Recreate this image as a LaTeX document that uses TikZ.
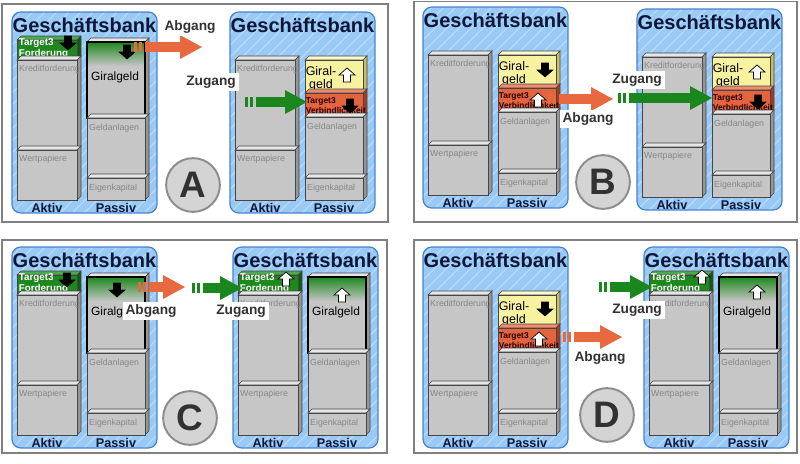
\documentclass[tikz,border=0pt]{standalone}
\usepackage{fontspec}
\setmainfont{Liberation Sans}
\usepackage{tikz}
\usetikzlibrary{arrows.meta}
\definecolor{bankblau}{RGB}{153, 201, 245}
\definecolor{bankrand}{RGB}{70, 130, 210}
\definecolor{schraffur}{RGB}{188, 220, 250}
\definecolor{titelblau}{RGB}{12, 24, 58}
\definecolor{qfront}{RGB}{198, 198, 198}
\definecolor{qtop}{RGB}{230, 230, 230}
\definecolor{qside}{RGB}{150, 150, 150}
\definecolor{qrand}{RGB}{70, 70, 70}
\definecolor{grautext}{RGB}{135, 135, 135}
\definecolor{tgruen}{RGB}{30, 135, 30}
\definecolor{tgruenhell}{RGB}{75, 170, 75}
\definecolor{tgruendunkel}{RGB}{18, 90, 18}
\definecolor{gelb}{RGB}{247, 242, 160}
\definecolor{gelbhell}{RGB}{252, 250, 205}
\definecolor{gelbdunkel}{RGB}{200, 190, 100}
\definecolor{rot}{RGB}{228, 100, 62}
\definecolor{rothell}{RGB}{240, 140, 110}
\definecolor{rotdunkel}{RGB}{165, 60, 30}
\definecolor{pfeilorange}{RGB}{232, 104, 64}
\definecolor{pfeilgruen}{RGB}{25, 135, 30}
\definecolor{schrift}{RGB}{50, 50, 50}
\definecolor{rahmen}{RGB}{128, 128, 128}
\definecolor{kreis}{RGB}{212, 212, 212}
\definecolor{kreisrand}{RGB}{140, 140, 140}

% 3D-Quader: x1, y1, x2, y2, front, top, side
\newcommand{\quader}[7]{%
  \filldraw[qline, fill=#6] (#1,#2) -- (#1+4,#2-4) -- (#3+4,#2-4) -- (#3,#2) -- cycle;
  \filldraw[qline, fill=#7] (#3,#2) -- (#3+4,#2-4) -- (#3+4,#4-4) -- (#3,#4) -- cycle;
  \filldraw[qline, fill=#5] (#1,#2) rectangle (#3,#4);
}
% kleine Pfeile: Mitte x, obere Kante y
\newcommand{\runter}[2]{%
  \filldraw[fill=black, draw=black, line width=0.3pt] (#1-3.5,#2) -- (#1+3.5,#2) -- (#1+3.5,#2+7) -- (#1+8,#2+7) -- (#1,#2+14) -- (#1-8,#2+7) -- (#1-3.5,#2+7) -- cycle;
}
\newcommand{\rauf}[2]{%
  \filldraw[fill=white, draw=black, line width=0.4pt] (#1,#2) -- (#1+8,#2+7) -- (#1+3.5,#2+7) -- (#1+3.5,#2+14) -- (#1-3.5,#2+14) -- (#1-3.5,#2+7) -- (#1-8,#2+7) -- cycle;
}
% Bank mit Titel und Fuss
\newcommand{\bank}{%
  \begin{scope}
    \clip[rounded corners=5pt] (0,0) rectangle (145,201);
    \fill[bankblau] (0,0) rectangle (145,201);
    \foreach \h in {-204,-192,...,144} \draw[schraffur, line width=0.6pt] (\h,201) -- ++(201,-201);
  \end{scope}
  \draw[bankrand, line width=0.7pt, rounded corners=5pt] (0,0) rectangle (145,201);
  \node[titel] (titel) at (72.5,13) {Geschäftsbank};
  \node[fuss] (aktiv) at (35,196) {Aktiv};
  \node[fuss] (passiv) at (104,196) {Passiv};
}
% Target3 Forderung + Giralgeld
\newcommand{\spalteT}{%
  \quader{5}{28}{65}{48}{tgruen}{tgruenhell}{tgruendunkel}
  \node[tweiss] (forderung) at (6.5,36.5) {Target3\\Forderung};
  \quader{5}{48}{65}{138}{qfront}{qtop}{qside}
  \node[grau] (kredit) at (6,57) {Kreditforderung};
  \quader{5}{138}{65}{188}{qfront}{qtop}{qside}
  \node[grau] (wert) at (6,147) {Wertpapiere};
  \quader{75}{30}{133}{106}{qfront}{qtop}{qside}
  \shade[top color=tgruen, middle color=tgruen!55!qfront, bottom color=qfront] (75,30) rectangle (133,54);
  \draw[black, line width=0.7pt] (75,30) rectangle (133,106);
  \node[schwarz] (giral) at (103,65) {Giralgeld};
  \quader{75}{106}{133}{166}{qfront}{qtop}{qside}
  \node[grau] (anlagen) at (76,116) {Geldanlagen};
  \quader{75}{166}{133}{188}{qfront}{qtop}{qside}
  \node[grau] (kapital) at (76,176) {Eigenkapital};
}
% Giralgeld + Target3 Verbindlichkeit
\newcommand{\spalteY}{%
  \quader{5}{48}{65}{138}{qfront}{qtop}{qside}
  \node[grau] (kredit) at (6,57) {Kreditforderung};
  \quader{5}{138}{65}{188}{qfront}{qtop}{qside}
  \node[grau] (wert) at (6,147) {Wertpapiere};
  \quader{75}{48}{133}{81}{gelb}{gelbhell}{gelbdunkel}
  \node[schwarz, align=center, font=\fontsize{7.1}{7.6}\selectfont] (giral) at (91,66.5) {Giral-\\geld};
  \quader{75}{81}{133}{105}{rot}{rothell}{rotdunkel}
  \node[rottext] (verbind) at (75.5,94) {Target3\\Verbindlichkeit};
  \quader{75}{105}{133}{166}{qfront}{qtop}{qside}
  \node[grau] (anlagen) at (76,115) {Geldanlagen};
  \quader{75}{166}{133}{188}{qfront}{qtop}{qside}
  \node[grau] (kapital) at (76,176) {Eigenkapital};
}

\begin{document}
\begin{tikzpicture}[
    x = 0.02cm, y = -0.02cm,
    qline/.style = {draw=qrand, line width=0.35pt},
    titel/.style = {font=\fontsize{11.4}{13}\selectfont\bfseries, text=titelblau, inner sep=0pt},
    fuss/.style = {font=\fontsize{7.2}{8}\selectfont\bfseries, text=titelblau, inner sep=0pt},
    grau/.style = {anchor=west, font=\fontsize{5}{6}\selectfont, text=grautext, inner sep=0.5pt},
    schwarz/.style = {font=\fontsize{6.8}{7.4}\selectfont, text=black, inner sep=0pt},
    tweiss/.style = {anchor=west, align=left, font=\fontsize{5.6}{6.2}\selectfont\bfseries, text=white, inner sep=0pt},
    rottext/.style = {anchor=west, align=left, font=\fontsize{4.8}{5.6}\selectfont\bfseries, text=black!85!red, inner sep=0pt},
    marke/.style = {fill=white, font=\fontsize{7.8}{9}\selectfont\bfseries, text=schrift, inner sep=1.6pt},
    buchstabe/.style = {circle, fill=kreis, draw=kreisrand, line width=1.1pt, minimum size=30.6pt, inner sep=0pt, font=\fontsize{21}{21}\selectfont\bfseries, text=schrift},
    rahmenlinie/.style = {draw=rahmen, line width=1.1pt},
    abgang/.style = {draw=pfeilorange, line width=6.2pt, dash pattern=on 1.7pt off 1.4pt on 1.7pt off 1.4pt on 400pt off 1pt, -{Triangle[length=12.5pt, width=13.6pt, line width=0pt]}},
    zugang/.style = {abgang, draw=pfeilgruen}
]
\useasboundingbox (0,0) rectangle (800,463);

% Rahmen
\draw[rahmenlinie] (2,4) rectangle (388,222);
\draw[rahmenlinie] (414,1.5) rectangle (797,222);
\draw[rahmenlinie] (2,240) rectangle (387,453);
\draw[rahmenlinie] (414,240) rectangle (797,453);

% A
\begin{scope}[shift={(12,12)}, name prefix=aL-]
\bank
\spalteT
\runter{56}{24}
\runter{115}{33}
\end{scope}
\begin{scope}[shift={(230,12)}, name prefix=aR-]
\bank
\spalteY
\rauf{117}{56}
\runter{120}{87}
\end{scope}

% B
\begin{scope}[shift={(423,7)}, name prefix=bL-]
\bank
\spalteY
\runter{122}{56}
\rauf{115}{86}
\end{scope}
\begin{scope}[shift={(637,9)}, name prefix=bR-]
\bank
\spalteY
\rauf{120}{56}
\runter{121}{86}
\end{scope}

% C
\begin{scope}[shift={(12,247)}, name prefix=cL-]
\bank
\spalteT
\runter{55}{26}
\runter{105}{36}
\end{scope}
\begin{scope}[shift={(233,247)}, name prefix=cR-]
\bank
\spalteT
\rauf{53}{25}
\rauf{109}{41}
\end{scope}

% D
\begin{scope}[shift={(423,247)}, name prefix=dL-]
\bank
\spalteY
\runter{122}{55}
\rauf{116}{85}
\end{scope}
\begin{scope}[shift={(644,247)}, name prefix=dR-]
\bank
\spalteT
\rauf{58}{23}
\rauf{113}{38}
\end{scope}

% Abgang / Zugang
\coordinate (abA0) at (134,47);
\coordinate (abA1) at (202,47);
\coordinate (zuA0) at (245,102);
\coordinate (zuA1) at (307,102);
\coordinate (abB0) at (548,99);
\coordinate (abB1) at (613,99);
\coordinate (zuB0) at (618,98);
\coordinate (zuB1) at (712,98);
\coordinate (abC0) at (138,287);
\coordinate (abC1) at (185,287);
\coordinate (zuC0) at (192,288);
\coordinate (zuC1) at (242,288);
\coordinate (abD0) at (563,337);
\coordinate (abD1) at (622,337);
\coordinate (zuD0) at (599,287);
\coordinate (zuD1) at (652,287);

\draw[abgang] (abA0) -- (abA1);
\draw[zugang] (zuA0) -- (zuA1);
\draw[abgang] (abB0) -- (abB1);
\draw[zugang] (zuB0) -- (zuB1);
\draw[abgang] (abC0) -- (abC1);
\draw[zugang] (zuC0) -- (zuC1);
\draw[abgang] (abD0) -- (abD1);
\draw[zugang] (zuD0) -- (zuD1);

\node[marke] (abAtext) at (190,27) {Abgang};
\node[marke] (zuAtext) at (211,82) {Zugang};
\node[marke] (abBtext) at (588,119) {Abgang};
\node[marke] (zuBtext) at (637,80) {Zugang};
\node[marke] (abCtext) at (151,311) {Abgang};
\node[marke] (zuCtext) at (241,311) {Zugang};
\node[marke] (abDtext) at (600,358) {Abgang};
\node[marke] (zuDtext) at (637,310) {Zugang};

% Buchstaben
\node[buchstabe] (kreisA) at (193,185) {A};
\node[buchstabe] (kreisB) at (603,182) {B};
\node[buchstabe] (kreisC) at (190,418) {C};
\node[buchstabe] (kreisD) at (607,415) {D};

\end{tikzpicture}
\end{document}
